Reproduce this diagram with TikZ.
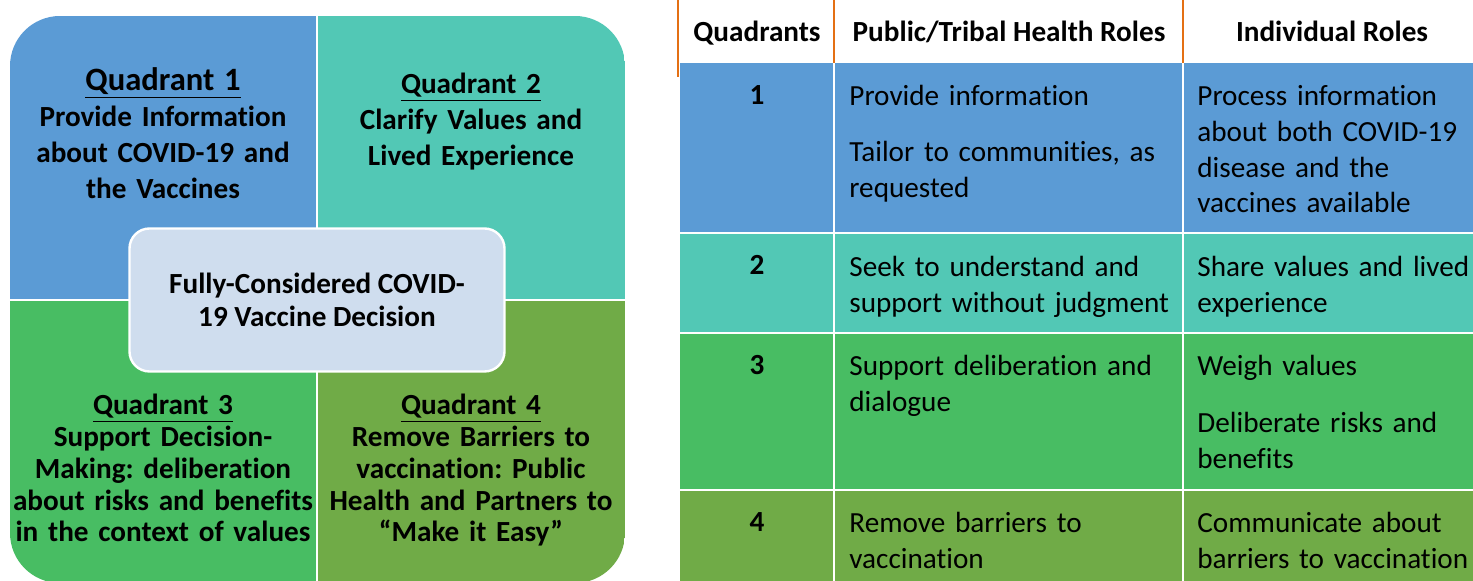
\documentclass[tikz,border=0pt]{standalone}
\usepackage{fontspec}
\setmainfont{Carlito}[Ligatures=NoCommon]
\usepackage{xcolor}
\definecolor{qone}{RGB}{91,155,213}
\definecolor{qtwo}{RGB}{82,200,181}
\definecolor{qthree}{RGB}{72,189,99}
\definecolor{qfour}{RGB}{112,171,71}
\definecolor{hub}{RGB}{207,221,238}
\definecolor{rule}{RGB}{228,112,20}
\frenchspacing

\begin{document}
\begin{tikzpicture}[x=0.5pt,y=-0.5pt,
  quad/.style={anchor=base, inner sep=0, text width=155pt, align=center, font=\bfseries\fontsize{14.6}{17.9}\selectfont},
  quadlow/.style={quad, font=\bfseries\fontsize{14.6}{15.85}\selectfont},
  head/.style={anchor=base, inner sep=0, font=\bfseries\fontsize{14.6}{17.8}\selectfont},
  cell/.style={anchor=base west, inner sep=0, text width=165pt, align=left, font=\fontsize{14.6}{17.8}\selectfont}]
\useasboundingbox (0,0) rectangle (1473,581);

% quadrants
\begin{scope}
\clip [rounded corners=25pt] (10,16) rectangle (625,583);
\fill [qone] (10,16) rectangle (317,300);
\fill [qtwo] (317,16) rectangle (625,300);
\fill [qthree] (10,300) rectangle (317,583);
\fill [qfour] (317,300) rectangle (625,583);
\draw [white, line width=1.2pt] (317,0) -- (317,590) (0,300) -- (640,300);
\end{scope}

\node [quad] (qa) at (163,91) {{\fontsize{16.3}{17.9}\selectfont\underline{Quadrant 1}}\\Provide Information\\about COVID-19 and\\the Vaccines};
\node [quad] (qb) at (471,94) {\underline{Quadrant 2}\\Clarify Values and\\Lived Experience};
\node [quadlow] (qc) at (163,415) {\underline{Quadrant 3}\\Support Decision-\\Making: deliberation\\about risks and benefits\\in the context of values};
\node [quadlow] (qd) at (471,415) {\underline{Quadrant 4}\\Remove Barriers to\\vaccination: Public\\Health and Partners to\\“Make it Easy”};

\node [draw=white, line width=1.2pt, fill=hub, rounded corners=10pt, minimum width=187.5pt, minimum height=71.5pt,
  align=center, font=\bfseries\fontsize{14.6}{16.5}\selectfont] (hub) at (317,300) {Fully-Considered COVID-\\19 Vaccine Decision};

% table
\foreach \top/\bot/\shade/\num in {63/233/qone/1,233/333/qtwo/2,333/490/qthree/3,490/581/qfour/4}{
 \fill [\shade] (680,\top) rectangle (1473,\bot);
 \node [head] (num\num) at (757,\top+42) {\num};
 }
\draw [white, line width=1pt] (834,63) -- (834,581) (1183,63) -- (1183,581);
\foreach \y in {233,333,490}{
 \draw [white, line width=1pt] (680,\y) -- (1473,\y);
 }
\draw [rule, line width=1pt] (678,0) -- (678,77) (834,0) -- (834,63) (1183,0) -- (1183,63);

\node [head] (hquad) at (757,42) {Quadrants};
\node [head] (hpub) at (1009,42) {Public/Tribal Health Roles};
\node [head] (hind) at (1332,42) {Individual Roles};

\node [cell] (pa) at (849,106) {Provide information\\[10pt]Tailor to communities, as\\requested};
\node [cell] (ia) at (1197,106) {Process information\\about both COVID-19\\disease and the\\vaccines available};
\node [cell] (pb) at (849,277) {Seek to understand and\\support without judgment};
\node [cell] (ib) at (1197,277) {Share values and lived\\experience};
\node [cell] (pc) at (849,376) {Support deliberation and\\dialogue};
\node [cell] (ic) at (1197,376) {Weigh values\\[10.5pt]Deliberate risks and\\benefits};
\node [cell] (pd) at (849,533) {Remove barriers to\\vaccination};
\node [cell] (id) at (1197,533) {Communicate about\\barriers to vaccination};
\end{tikzpicture}
\end{document}
